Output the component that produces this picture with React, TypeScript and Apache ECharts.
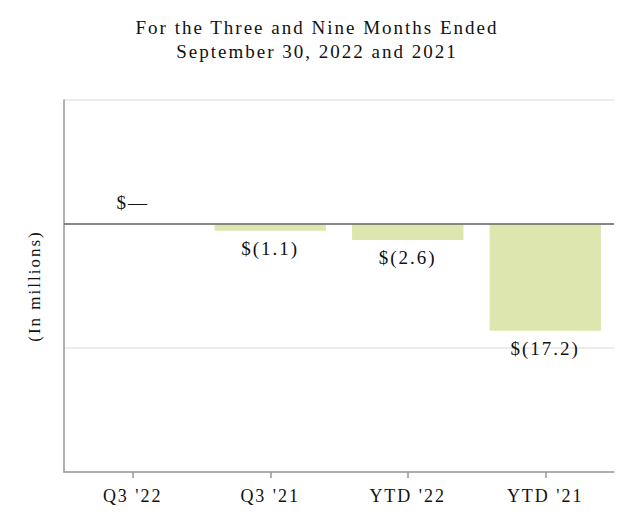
import React, { useEffect, useRef } from "react";
import * as echarts from "echarts";

const categories = ["Q3 '22", "Q3 '21", "YTD '22", "YTD '21"];
const values = [0, -1.1, -2.6, -17.2];
const titleLines = ["For the Three and Nine Months Ended", "September 30, 2022 and 2021"];
const yName = "(In millions)";

const FONT = "'Liberation Serif', 'Times New Roman', serif";

function fmt(v: number): string {
  if (v === 0) return "$\u2014";
  if (v < 0) return "$(" + Math.abs(v).toFixed(1) + ")";
  return "$" + v.toFixed(1);
}

export default function App() {
  const ref = useRef<HTMLDivElement>(null);
  useEffect(() => {
    if (!ref.current) return;
    const chart = echarts.init(ref.current, undefined, { renderer: "svg" });
    chart.setOption({
      animation: false,
      backgroundColor: "#ffffff",
      title: {
        text: titleLines.join("\n"),
        left: "center",
        top: 10,
        textStyle: {
          fontFamily: FONT,
          fontSize: 19,
          fontWeight: "normal",
          color: "#111",
          lineHeight: 24,
        },
      },
      grid: { left: 64, right: 20, top: 100, bottom: 60 },
      xAxis: {
        type: "category",
        data: categories,
        axisLine: { onZero: false, lineStyle: { color: "#999", width: 1.5 } },
        axisTick: { show: true, alignWithLabel: true, length: 6, lineStyle: { color: "#999", width: 1.5 } },
        axisLabel: { fontFamily: FONT, fontSize: 18, color: "#111", margin: 15 },
      },
      yAxis: {
        type: "value",
        min: -40,
        max: 20,
        interval: 20,
        name: yName,
        nameLocation: "middle",
        nameRotate: 90,
        nameGap: 21,
        nameTextStyle: { fontFamily: FONT, fontSize: 17, color: "#111" },
        axisLine: { show: true, lineStyle: { color: "#999", width: 1.5 } },
        axisTick: { show: false },
        axisLabel: { show: false },
        splitLine: { lineStyle: { color: "#e6e6e6", width: 1.5 } },
      },
      series: [
        {
          type: "bar",
          barWidth: "81%",
          itemStyle: { color: "#dde6ae" },
          data: values.map((v) => ({
            value: v,
            label: {
              show: true,
              position: v >= 0 ? "top" : "bottom",
              distance: v >= 0 ? 12 : 8,
              formatter: () => fmt(v),
              fontFamily: FONT,
              fontSize: 19,
              color: "#111",
            },
          })),
          markLine: {
            silent: true,
            symbol: "none",
            label: { show: false },
            lineStyle: { color: "#666", width: 1.5, type: "solid" },
            data: [{ yAxis: 0 }],
          },
        },
      ],
    });
    return () => chart.dispose();
  }, []);
  return (
    <>
      <style>{"#chart-root svg text { letter-spacing: 2px; }"}</style>
      <div
        id="chart-root"
        ref={ref}
        style={{ position: "fixed", left: 0, top: 0, width: 634, height: 532 }}
      />
    </>
  );
}
